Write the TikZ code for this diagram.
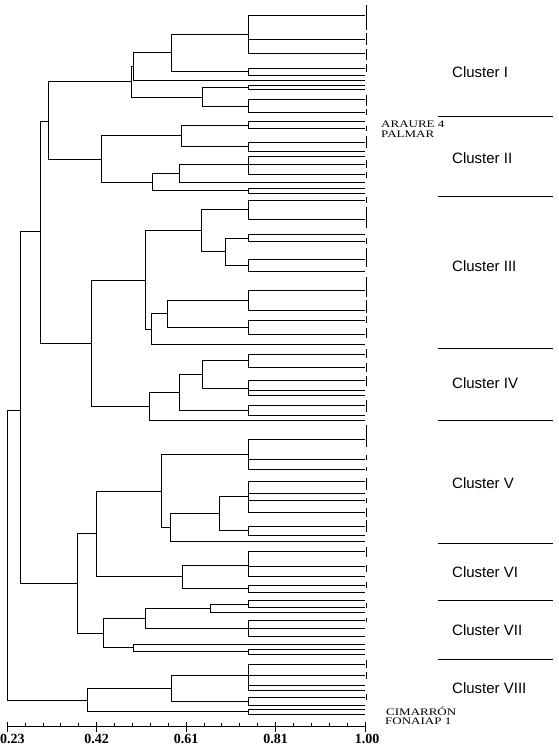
\documentclass[tikz,border=0pt]{standalone}
\usepackage{fontspec}
\setmainfont{Liberation Serif}
\newfontfamily\clusterfont{Liberation Sans}
\usepackage{tikz}

\tikzset{
  branch/.style={line width=1pt},
  dupbar/.style={line width=1pt},
  clusterlabel/.style={anchor=west,inner sep=0pt,font=\clusterfont\fontsize{15}{18}\selectfont},
  cultivar/.style={anchor=west,inner sep=0pt,font=\fontsize{10}{12}\selectfont},
  ticklabel/.style={inner sep=0pt,font=\bfseries\fontsize{14}{17}\selectfont}
}
\newcommand{\wide}[1]{\scalebox{1.3}[1]{#1}}

\begin{document}
\begin{tikzpicture}[x=1pt,y=-1pt]
\useasboundingbox (0,0) rectangle (558,751);

% leaves (all end at similarity 1.00)
\foreach \n/\y in {a1/15.7,a2/39.3,a3/54,a4/68.3,a5/75.7,a6/81,a7/86,a8/90,a9/100,a10/112.3,
  b1/121.7,b2/129,b3/142.3,b4/151.7,b5/156.7,b6/164.3,b7/175,b8/183,b9/188.7,b10/193.3,
  c1/200.7,c2/219.3,c3/234.3,c4/241.7,c5/259.3,c6/271.7,c7/290,c8/310,c9/320,c10/334,c11/344,
  d1/354,d2/367.3,d3/380.3,d4/390.7,d5/395.3,d6/405,d7/415.3,d8/420,
  e1/439.3,e2/459.3,e3/469.3,e4/481.7,e5/493.3,e6/500.7,e7/512.7,e8/526,e9/535.3,e10/541,
  f1/551.7,f2/566,f3/576,f4/585,f5/592.3,
  g1/600.7,g2/607.3,g3/612.3,g4/620.7,g5/628.3,g6/636,g7/644,g8/649.3,g9/654,
  h1/664,h2/675.7,h3/685,h4/690,h5/697.3,h6/705,h7/709,h8/714}
  \coordinate (\n) at (365,\y);

% joins
\foreach \n/\x/\y in {nA/248.3/35,nB/248.3/72,nC/171.3/53,nD/133.3/67,nH/248.3/88,nI/248.3/106.2,
  nG/202.7/97.3,nE/131.7/82,nF/48.3/121.7,
  nJ/248.3/125.3,nK/248.3/147,nL/181/136,nN/248.3/164.3,nO/179.3/173.5,nQ/248.3/191,
  nP/152.3/182.3,nM/101.7/159.3,
  n3a/248.3/210,n3b/248.3/238,n3c/248.3/265.5,n3d/225.7/251.5,n3e/201.7/230.7,
  n3f/248.3/300,n3g/248.3/327,n3h/167/313.5,n3i/151.7/329,n3j/145.7/280,
  n4a/248.3/360.7,n4b/248.3/388,n4c/202.7/374.3,n4d/248.3/410,n4e/179.3/392,n4f/149.3/406,
  n34/91.7/343.3,nTop/40/231.7,
  n5a/248.3/454,n5b/248.3/496.7,n5c/248.3/530.7,n5d/219.3/513.7,n5e/170/527.3,n5f/161.3/491.7,
  n6a/248.3/565,n6b/248.3/588.7,n6c/182.7/576.8,n56/96.7/533.8,
  n7a/248.3/604,n7b/210.7/608.2,n7c/248.3/628.3,n7d/145.7/618.3,n7e/248.3/651.7,
  n7f/133.3/647.8,n7g/103.3/633,n567/77.3/583.4,nMid/20.7/410,
  n8a/248.3/675.7,n8b/248.3/701.2,n8c/171.3/688.5,n8d/248.3/711.5,n8e/87.3/700,
  root/7.3/555}
  \coordinate (\n) at (\x,\y);

% branches
\foreach \p/\c in {nA/a1,nA/a2,nA/a3,nB/a4,nB/a5,nC/nA,nC/nB,nD/nC,nD/a6,nH/a7,nH/a8,
  nI/a9,nI/a10,nG/nH,nG/nI,nE/nD,nE/nG,nF/nE,nF/nM,
  nJ/b1,nJ/b2,nK/b3,nK/b4,nL/nJ,nL/nK,nN/b5,nN/b6,nN/b7,nO/nN,nO/b8,nQ/b9,nQ/b10,
  nP/nO,nP/nQ,nM/nL,nM/nP,
  n3a/c1,n3a/c2,n3b/c3,n3b/c4,n3c/c5,n3c/c6,n3d/n3b,n3d/n3c,n3e/n3a,n3e/n3d,
  n3f/c7,n3f/c8,n3g/c9,n3g/c10,n3h/n3f,n3h/n3g,n3i/n3h,n3i/c11,n3j/n3e,n3j/n3i,
  n4a/d1,n4a/d2,n4b/d3,n4b/d4,n4b/d5,n4c/n4a,n4c/n4b,n4d/d6,n4d/d7,n4e/n4c,n4e/n4d,
  n4f/n4e,n4f/d8,n34/n3j,n34/n4f,nTop/nF,nTop/n34,
  n5a/e1,n5a/e2,n5a/e3,n5b/e4,n5b/e5,n5b/e6,n5b/e7,n5c/e8,n5c/e9,n5d/n5b,n5d/n5c,
  n5e/n5d,n5e/e10,n5f/n5a,n5f/n5e,
  n6a/f1,n6a/f2,n6a/f3,n6b/f4,n6b/f5,n6c/n6a,n6c/n6b,n56/n5f,n56/n6c,
  n7a/g1,n7a/g2,n7b/n7a,n7b/g3,n7c/g4,n7c/g5,n7c/g6,n7d/n7b,n7d/n7c,n7e/g8,n7e/g9,
  n7f/g7,n7f/n7e,n7g/n7d,n7g/n7f,n567/n56,n567/n7g,nMid/nTop,nMid/n567,
  n8a/h1,n8a/h2,n8a/h3,n8a/h4,n8b/h5,n8b/h6,n8c/n8a,n8c/n8b,n8d/h7,n8d/h8,
  n8e/n8c,n8e/n8d,root/nMid,root/n8e}
  \draw[branch] (\p) |- (\c);

% identical accessions
\foreach \t/\b in {5/30,33/45,49/60,64/72,95/106,109/115,126/131,136/148,160/168,172/178,
  197/203,207/228,238/244,248/267,277/297,300/313,316/323,328/338,
  349/358,363/372,376/386,400/412,425/447,455/460,467/471,478/490,498/503,508/517,520/532,
  547/557,565/572,582/588,603/608,618/622,660/668,672/679,694/700}
  \draw[dupbar] (366,\t) -- (366,\b);

% named cultivars
\node[cultivar] (araure) at (381,124) {\wide{ARAURE 4}};
\node[cultivar] (palmar) at (381,134.5) {\wide{PALMAR}};
\node[cultivar] (cimarron) at (386,711) {\wide{CIMARRÓN}};
\node[cultivar] (fonaiap) at (385,721) {\wide{FONAIAP 1}};

% similarity axis
\draw[branch] (7.3,726) -- (365,726);
\foreach \i in {0,...,20}
  \draw[branch] (7.3+17.885*\i,722.5) -- ++(0,3.5);
\foreach \i in {0,5,10,15,20}
  \draw[branch] (7.3+17.885*\i,721.5) -- ++(0,10);
\node[ticklabel,anchor=west] (s023) at (0,739) {0.23};
\node[ticklabel] (s042) at (96.7,739) {0.42};
\node[ticklabel] (s061) at (186.1,739) {0.61};
\node[ticklabel] (s081) at (275.6,739) {0.81};
\node[ticklabel] (s100) at (367,739) {1.00};

% cluster bands
\foreach \y in {116.3,196.3,348.3,420,543.3,600.7,659.3}
  \draw[branch] (437.7,\y) -- (553.3,\y);
\node[clusterlabel] (cl1) at (452,72) {Cluster I};
\node[clusterlabel] (cl2) at (452,158) {Cluster II};
\node[clusterlabel] (cl3) at (452,265.7) {Cluster III};
\node[clusterlabel] (cl4) at (452,383.3) {Cluster IV};
\node[clusterlabel] (cl5) at (452,483.3) {Cluster V};
\node[clusterlabel] (cl6) at (452,571.7) {Cluster VI};
\node[clusterlabel] (cl7) at (452,630) {Cluster VII};
\node[clusterlabel] (cl8) at (452,688.3) {Cluster VIII};

\end{tikzpicture}
\end{document}
